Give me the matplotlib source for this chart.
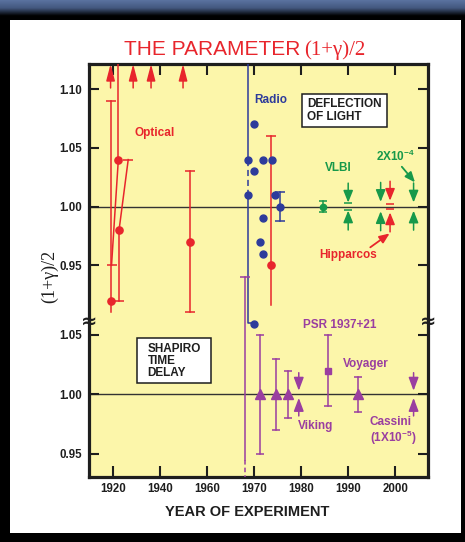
import numpy as np
import matplotlib.pyplot as plt
from matplotlib.patches import Rectangle
from matplotlib.colors import LinearSegmentedColormap

plt.rcParams['font.family'] = ['Liberation Sans', 'DejaVu Sans']
plt.rcParams['mathtext.default'] = 'regular'

RED = '#e8252c'
BLUE = '#2d3b9b'
GREEN = '#17994a'
PURPLE = '#9a3ea0'
PAPER = '#fcf6aa'
INK = '#1e1e1e'

# ---- deflection of light: optical (red) ----
opt_years = [1919.0, 1922.3, 1922.6, 1952.8, 1973.7]
opt_vals = [0.92, 1.04, 0.98, 0.97, 0.95]
opt_lo = [0.91, 1.04, 0.92, 0.91, 0.916]
opt_hi = [1.09, 1.13, 0.98, 1.03, 1.06]
opt_cap_lo = [False, False, True, True, False]
opt_cap_hi = [True, False, False, True, True]
# slanted arms of the two 1922 points
opt_slant_from = [1, 2]
opt_slant_x = [1919.4, 1926.5]
opt_slant_y = [0.95, 1.04]
# lower limits drawn as arrows at the top
opt_arrow_years = [1919.0, 1928.6, 1936.2, 1949.8]

# ---- deflection of light: radio (blue) ----
radio_years = [1968.8, 1968.8, 1970.0, 1970.0, 1971.8, 1973.8, 1974.4,
               1975.5, 1971.8, 1971.2, 1971.8, 1970.0]
radio_vals = [1.04, 1.01, 1.07, 1.03, 1.04, 1.04, 1.01,
              1.00, 0.99, 0.97, 0.96, 0.90]
radio_bar_year, radio_bar_err = 1975.5, 0.012
radio_line_year = 1968.8

# ---- VLBI (green) and Hipparcos (red) ----
vlbi_year, vlbi_val, vlbi_err = 1984.6, 1.00, 0.005
vlbi_arrow_years = [1990.0, 1996.9, 2003.9]
vlbi_arrow_gaps = [0.0034, 0.004, 0.0035]
vlbi_arrow_caps = [0.0028, None, None]
hip_year, hip_gap, hip_cap = 1998.9, 0.005, 0.002

# ---- Shapiro time delay (purple) ----
sh_years = [1971.3, 1974.6, 1977.2, 1992.0]
sh_vals = [1.00, 1.00, 1.00, 1.00]
sh_errs = [0.05, 0.03, 0.02, 0.015]
psr_year, psr_val, psr_err = 1985.7, 1.02, 0.03
sh_arrow_years = [1979.5, 2003.9]     # Viking, Cassini
sh_arrow_gaps = [0.003, 0.003]
sh_long_year, sh_long_top = 1968.0, 0.94

x_ticks = [1920, 1940, 1960, 1970, 1980, 1990, 2000]
top_yticks = [0.95, 1.00, 1.05, 1.10]
bot_yticks = [0.95, 1.00, 1.05]


def fwd(y):
    y = np.asarray(y, float)
    return np.where(y < 1960, 1960 + (y - 1960) / 2, y)


def inv(u):
    u = np.asarray(u, float)
    return np.where(u < 1960, 1960 + (u - 1960) * 2, u)


def bar(ax, x, lo, hi, color, cap_lo=True, cap_hi=True, cw=7, lw=1.1, **kw):
    ax.plot([x, x], [lo, hi], color=color, lw=lw, zorder=3, **kw)
    ys = [v for v, c in ((lo, cap_lo), (hi, cap_hi)) if c]
    if ys:
        ax.plot([x] * len(ys), ys, ls='none', marker='_', ms=cw, mew=lw,
                color=color, zorder=3, **kw)


def pinch(ax, x, y0, gap, color, length=14, hl=0.72, hw=0.29):
    for sgn in (1, -1):
        ax.annotate('', xy=(x, y0 + sgn * gap), xytext=(0, sgn * length),
                    textcoords='offset points',
                    arrowprops=dict(arrowstyle=f'-|>,head_length={hl},head_width={hw}',
                                    color=color, lw=1.1, shrinkA=0, shrinkB=0,
                                    mutation_scale=10))


W, H = 465, 542
fig = plt.figure(figsize=(W / 100, H / 100), dpi=100, facecolor='black')
fig.add_artist(Rectangle((10 / W, 9 / H), 451 / W, 513 / H, transform=fig.transFigure,
                         facecolor='white', edgecolor='none', zorder=-1))
band = fig.add_axes([0, 1 - 16 / H, 1, 16 / H])
band.imshow(np.linspace(0, 1, 32).reshape(-1, 1), aspect='auto',
            cmap=LinearSegmentedColormap.from_list('band', ['#5a72a0', '#43587f', '#000000']))
band.axis('off')

left, width = 88.7 / W, 339 / W
ax_bot = fig.add_axes([left, (H - 476.7) / H, width, 156.7 / H])
ax_top = fig.add_axes([left, (H - 320) / H, width, 256 / H], sharex=ax_bot)
ax_top.set_zorder(2)

ax_bot.set_xscale('function', functions=(fwd, inv))
ax_bot.set_xlim(1909.7, 2006.9)
ax_top.set_ylim(0.9034, 1.1214)
ax_bot.set_ylim(0.9306, 1.0626)

for ax, ticks in ((ax_top, top_yticks), (ax_bot, bot_yticks)):
    ax.set_facecolor(PAPER)
    for s in ax.spines.values():
        s.set_linewidth(2.3)
        s.set_color(INK)
    ax.axhline(1.0, color='#333333', lw=1.0, zorder=1)
    ax.set_yticks(ticks)
    ax.set_yticklabels([f'{t:.2f}' for t in ticks], fontweight='bold', fontsize=8.3, color=INK)
    ax.tick_params(axis='y', direction='in', left=True, right=True, length=7, width=1.5,
                   pad=5, color=INK)
    ax.tick_params(axis='x', direction='in', length=8, width=1.5, color=INK)

ax_top.spines['bottom'].set_visible(False)
ax_bot.spines['top'].set_visible(False)
ax_top.tick_params(axis='x', top=True, bottom=False, labelbottom=False)
ax_bot.tick_params(axis='x', top=False, bottom=True, pad=4.5)
ax_bot.set_xticks(x_ticks)
ax_bot.set_xticklabels([str(t) for t in x_ticks], fontweight='bold', fontsize=8.3, color=INK)
ax_bot.xaxis.set_minor_locator(plt.NullLocator())

# ---- optical ----
ytop = ax_top.get_ylim()[1]
for i, x in enumerate(opt_years):
    bar(ax_top, x, opt_lo[i], min(opt_hi[i], ytop), RED, opt_cap_lo[i], opt_cap_hi[i])
for i, xs, ys in zip(opt_slant_from, opt_slant_x, opt_slant_y):
    ax_top.plot([opt_years[i], xs], [opt_vals[i], ys], color=RED, lw=1.1, zorder=3)
    ax_top.plot([xs], [ys], marker='_', ms=7, mew=1.1, color=RED, zorder=3)
ax_top.plot(opt_years, opt_vals, 'o', color=RED, ms=5.2, zorder=4)
for x in opt_arrow_years:
    ax_top.annotate('', xy=(x, ytop), xytext=(x, 1.101), annotation_clip=False,
                    arrowprops=dict(arrowstyle='-|>,head_length=1.0,head_width=0.26',
                                    color=RED, lw=1.1, shrinkA=0, shrinkB=0,
                                    mutation_scale=10))

# ---- radio ----
ax_top.plot([radio_line_year] * 2, [ytop, 1.04], color=BLUE, lw=1.1, zorder=3)
ax_top.plot([radio_line_year] * 2, [1.04, 1.01], color=BLUE, lw=1.1, zorder=3,
            dashes=(4, 2.5))
ax_top.plot([radio_line_year, radio_line_year, 1970.0], [1.01, 0.9012, 0.9012],
            color=BLUE, lw=1.1, zorder=3, clip_on=False)
bar(ax_top, radio_bar_year, 1 - radio_bar_err, 1 + radio_bar_err, BLUE, cw=6.5)
ax_top.plot(radio_years, radio_vals, 'o', color=BLUE, ms=5, zorder=4, clip_on=False)

# ---- VLBI / Hipparcos ----
bar(ax_top, vlbi_year, vlbi_val - vlbi_err, vlbi_val + vlbi_err, GREEN, cw=6)
ax_top.plot([vlbi_year], [vlbi_val], 'o', color=GREEN, ms=4.5, zorder=4)
for x, g, c in zip(vlbi_arrow_years, vlbi_arrow_gaps, vlbi_arrow_caps):
    pinch(ax_top, x, 1.0, g, GREEN)
    if c:
        ax_top.plot([x, x], [1 - c, 1 + c], ls='none', marker='_', ms=6, mew=1.1, color=GREEN)
pinch(ax_top, hip_year, 1.0, hip_gap, RED)
ax_top.plot([hip_year] * 2, [1 - hip_cap, 1 + hip_cap], ls='none', marker='_', ms=6,
            mew=1.1, color=RED, zorder=4)

# purple bar reaching up from the lower panel
bar(ax_top, sh_long_year, ax_top.get_ylim()[0], sh_long_top, PURPLE, cap_lo=False)

# ---- Shapiro ----
ax_bot.plot([sh_long_year] * 2, [ax_bot.get_ylim()[1], 0.945], color=PURPLE, lw=1.1, zorder=3)
ax_bot.plot([sh_long_year] * 2, [0.945, ax_bot.get_ylim()[0]], color=PURPLE, lw=1.1,
            zorder=3, dashes=(3, 2))
for x, v, e in zip(sh_years, sh_vals, sh_errs):
    bar(ax_bot, x, v - e, v + e, PURPLE, cw=6)
ax_bot.plot(sh_years, sh_vals, '^', color=PURPLE, ms=7.5, zorder=4)
bar(ax_bot, psr_year, psr_val - psr_err, psr_val + psr_err, PURPLE, cw=6)
ax_bot.plot([psr_year], [psr_val], 's', color=PURPLE, ms=4.5, zorder=4)
for x, g in zip(sh_arrow_years, sh_arrow_gaps):
    pinch(ax_bot, x, 1.0, g, PURPLE, length=13, hl=0.8, hw=0.3)

# ---- labels ----
lab = dict(fontsize=8.5, fontweight='bold', ha='center', va='center')
ax_top.text(1937.7, 1.0627, 'Optical', color=RED, **lab)
ax_top.text(1973.6, 1.0906, 'Radio', color=BLUE, **lab)
ax_top.text(1987.8, 1.033, 'VLBI', color=GREEN, **lab)
ax_top.text(2000.1, 1.0424, '2X10$^{-4}$', color=GREEN, **lab)
ax_top.text(1990.0, 0.9585, 'Hipparcos', color=RED, **lab)
ax_top.annotate('', xy=(2004.2, 1.0206), xytext=(2001.4, 1.0339),
                arrowprops=dict(arrowstyle='-|>,head_length=0.6,head_width=0.25',
                                color=GREEN, lw=1.3, shrinkA=0, shrinkB=0, mutation_scale=10))
ax_top.annotate('', xy=(1998.8, 0.9771), xytext=(1994.7, 0.9653),
                arrowprops=dict(arrowstyle='-|>,head_length=0.6,head_width=0.25',
                                color=RED, lw=1.3, shrinkA=0, shrinkB=0, mutation_scale=10))

# drawn by the top axes (which sits above) so the break does not cut it
ax_top.text(1988.2, 1.0585, 'PSR 1937+21', color=PURPLE, transform=ax_bot.transData, **lab)
ax_bot.text(1993.8, 1.0255, 'Voyager', color=PURPLE, **lab)
ax_bot.text(1983.1, 0.9733, 'Viking', color=PURPLE, **lab)
ax_bot.text(1999.0, 0.9765, 'Cassini', color=PURPLE, **lab)
ax_bot.text(1999.5, 0.9635, '(1X10$^{-5}$)', color=PURPLE, **lab)

# boxes
ax_top.add_patch(Rectangle((0.6283, 0.7551), 0.2525, 0.1277, transform=ax_top.transAxes,
                           facecolor='white', edgecolor=INK, lw=1.1, zorder=5))
ax_top.text(0.644, 0.818, 'DEFLECTION\nOF LIGHT', transform=ax_top.transAxes, fontsize=8.5,
            fontweight='bold', ha='left', va='center', linespacing=1.05, color=INK, zorder=6)
ax_bot.add_patch(Rectangle((0.1416, 0.5999), 0.2183, 0.2833, transform=ax_bot.transAxes,
                           facecolor='white', edgecolor=INK, lw=1.1, zorder=5))
ax_bot.text(0.174, 0.7396, 'SHAPIRO\nTIME\nDELAY', transform=ax_bot.transAxes, fontsize=8.5,
            fontweight='bold', ha='left', va='center', linespacing=1.0, color=INK, zorder=6)

# titles and axis labels
fig.text(300 / W, 1 - 55 / H, 'THE PARAMETER', ha='right', va='baseline', color=RED,
         fontsize=15)
fig.text(304 / W, 1 - 55 / H, '(1+γ)/2', ha='left', va='baseline', color=RED,
         fontsize=15, family='Liberation Serif')
fig.text(50 / W, 1 - 276.7 / H, '(1+γ)/2', rotation=90, ha='center', va='center',
         fontsize=13, family='Liberation Serif', color=INK)
fig.text(247.5 / W, 1 - 511.7 / H, 'YEAR OF EXPERIMENT', ha='center', va='center',
         fontsize=10.5, fontweight='bold', color=INK)
for xp in (88.7, 427.7):
    fig.text(xp / W, 1 - 321 / H, '≈', ha='center', va='center', fontsize=14,
             fontweight='bold', family='DejaVu Sans', color=INK, zorder=10)

fig.savefig('out.png', dpi=100, facecolor='black')
